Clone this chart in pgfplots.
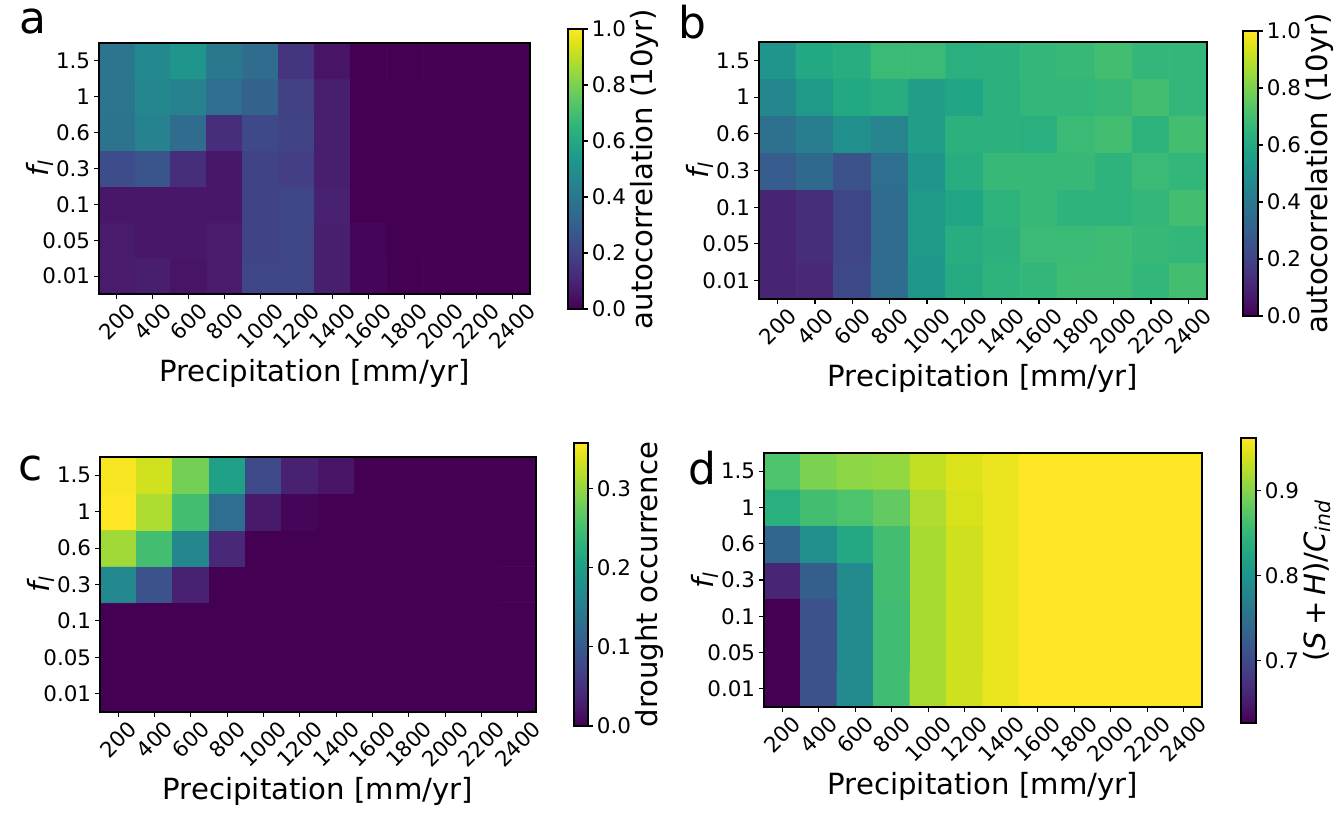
\documentclass[border=0pt]{standalone}
\usepackage{fontspec}
\setmainfont{DejaVu Sans}
\usepackage{graphicx}
\usepackage{pgfplots}
\pgfplotsset{compat=1.18}
\usepgfplotslibrary{colormaps}
\newcommand\tickfont{\fontsize{12.2}{14}\selectfont}
\newcommand\labfont{\fontsize{16.6}{19}\selectfont}
\newcommand\letfont{\fontsize{25}{29}\selectfont}
\pgfplotsset{
  hm/.style={
    scale only axis, enlargelimits=false, axis on top,
    xmin=-0.5, xmax=11.5, ymin=-0.5, ymax=6.5,
    colormap/viridis,
    xtick={0,...,11}, ytick={0,...,6},
    xticklabels={\rotatebox{45}{200},\rotatebox{45}{400},\rotatebox{45}{600},\rotatebox{45}{800},\rotatebox{45}{1000},\rotatebox{45}{1200},\rotatebox{45}{1400},\rotatebox{45}{1600},\rotatebox{45}{1800},\rotatebox{45}{2000},\rotatebox{45}{2200},\rotatebox{45}{2400}},
    yticklabels={0.01,0.05,0.1,0.3,0.6,1,1.5},
    tick pos=left, tick align=outside, major tick length=0.1cm,
    tick style={black, line width=0.6pt},
    axis line style={black, line width=0.6pt},
    xticklabel style={anchor=north, font=\tickfont, inner sep=1pt},
    yticklabel style={font=\tickfont, inner sep=2pt},
    xlabel={Precipitation [mm/yr]},
    ylabel={\itshape f\textsubscript{l}},
    ylabel shift=-12pt,
    label style={font=\labfont},
    colorbar,
  },
  cb/.style={
    scale only axis,
    at={(parent axis.north east)}, anchor=north west,
    width=0.3cm,
    ytick pos=right,
    tick align=outside, major tick length=0.1cm,
    tick style={black, line width=0.6pt},
    axis line style={black, line width=0.6pt},
    yticklabel style={font=\tickfont, inner sep=2pt, /pgf/number format/.cd, fixed, fixed zerofill, precision=1, assume math mode=true},
    ylabel style={font=\labfont},
    ylabel shift=-3pt,
  },
}
\begin{document}
\begin{tikzpicture}
\useasboundingbox (0,0) rectangle (26.72,-16.3);

% ---------- a ----------
\begin{axis}[hm, at={(1.98cm,-0.86cm)}, anchor=north west, width=8.62cm, height=5.02cm,
  point meta min=0, point meta max=1,
  colorbar style={cb, xshift=0.46cm, yshift=0.28cm, height=5.6cm, ytick={0,0.2,0.4,0.6,0.8,1}, ylabel={autocorrelation (10yr)}}]
\addplot[matrix plot*, mesh/cols=12, point meta=explicit] coordinates {
(0,0)[0.07] (1,0)[0.08] (2,0)[0.05] (3,0)[0.07] (4,0)[0.21] (5,0)[0.21] (6,0)[0.08] (7,0)[0.01] (8,0)[0] (9,0)[0] (10,0)[0] (11,0)[0]
(0,1)[0.07] (1,1)[0.06] (2,1)[0.06] (3,1)[0.07] (4,1)[0.20] (5,1)[0.21] (6,1)[0.08] (7,1)[0.01] (8,1)[0] (9,1)[0] (10,1)[0] (11,1)[0]
(0,2)[0.06] (1,2)[0.06] (2,2)[0.06] (3,2)[0.06] (4,2)[0.20] (5,2)[0.21] (6,2)[0.09] (7,2)[0] (8,2)[0] (9,2)[0] (10,2)[0] (11,2)[0]
(0,3)[0.23] (1,3)[0.26] (2,3)[0.13] (3,3)[0.06] (4,3)[0.20] (5,3)[0.18] (6,3)[0.08] (7,3)[0] (8,3)[0] (9,3)[0] (10,3)[0] (11,3)[0]
(0,4)[0.38] (1,4)[0.44] (2,4)[0.35] (3,4)[0.13] (4,4)[0.22] (5,4)[0.20] (6,4)[0.08] (7,4)[0] (8,4)[0] (9,4)[0] (10,4)[0] (11,4)[0]
(0,5)[0.39] (1,5)[0.46] (2,5)[0.44] (3,5)[0.36] (4,5)[0.31] (5,5)[0.19] (6,5)[0.08] (7,5)[0] (8,5)[0] (9,5)[0] (10,5)[0] (11,5)[0]
(0,6)[0.39] (1,6)[0.47] (2,6)[0.52] (3,6)[0.40] (4,6)[0.35] (5,6)[0.15] (6,6)[0.05] (7,6)[0] (8,6)[0] (9,6)[0] (10,6)[0] (11,6)[0]
};
\end{axis}

% ---------- b ----------
\begin{axis}[hm, at={(15.18cm,-0.84cm)}, anchor=north west, width=8.96cm, height=5.14cm,
  point meta min=0, point meta max=1,
  colorbar style={cb, xshift=0.42cm, yshift=0.22cm, height=5.7cm, ytick={0,0.2,0.4,0.6,0.8,1}, ylabel={autocorrelation (10yr)}}]
\addplot[matrix plot*, mesh/cols=12, point meta=explicit] coordinates {
(0,0)[0.10] (1,0)[0.11] (2,0)[0.22] (3,0)[0.35] (4,0)[0.53] (5,0)[0.61] (6,0)[0.65] (7,0)[0.66] (8,0)[0.69] (9,0)[0.69] (10,0)[0.66] (11,0)[0.70]
(0,1)[0.10] (1,1)[0.13] (2,1)[0.21] (3,1)[0.35] (4,1)[0.54] (5,1)[0.62] (6,1)[0.64] (7,1)[0.68] (8,1)[0.68] (9,1)[0.69] (10,1)[0.67] (11,1)[0.66]
(0,2)[0.10] (1,2)[0.13] (2,2)[0.21] (3,2)[0.35] (4,2)[0.54] (5,2)[0.59] (6,2)[0.65] (7,2)[0.67] (8,2)[0.65] (9,2)[0.65] (10,2)[0.66] (11,2)[0.70]
(0,3)[0.29] (1,3)[0.34] (2,3)[0.25] (3,3)[0.36] (4,3)[0.52] (5,3)[0.62] (6,3)[0.67] (7,3)[0.67] (8,3)[0.67] (9,3)[0.65] (10,3)[0.68] (11,3)[0.66]
(0,4)[0.37] (1,4)[0.42] (2,4)[0.50] (3,4)[0.45] (4,4)[0.56] (5,4)[0.64] (6,4)[0.64] (7,4)[0.63] (8,4)[0.68] (9,4)[0.70] (10,4)[0.65] (11,4)[0.70]
(0,5)[0.46] (1,5)[0.54] (2,5)[0.60] (3,5)[0.62] (4,5)[0.56] (5,5)[0.59] (6,5)[0.64] (7,5)[0.66] (8,5)[0.66] (9,5)[0.67] (10,5)[0.70] (11,5)[0.66]
(0,6)[0.52] (1,6)[0.60] (2,6)[0.62] (3,6)[0.68] (4,6)[0.68] (5,6)[0.63] (6,6)[0.64] (7,6)[0.66] (8,6)[0.67] (9,6)[0.70] (10,6)[0.66] (11,6)[0.66]
};
\end{axis}

% ---------- c ----------
\begin{axis}[hm, at={(2.00cm,-9.14cm)}, anchor=north west, width=8.72cm, height=5.10cm,
  point meta min=0, point meta max=0.358,
  colorbar style={cb, xshift=0.46cm, yshift=0.28cm, width=0.28cm, height=5.66cm, ytick={0,0.1,0.2,0.3}, ylabel={drought occurrence}}]
\addplot[matrix plot*, mesh/cols=12, point meta=explicit] coordinates {
(0,0)[0] (1,0)[0] (2,0)[0] (3,0)[0] (4,0)[0] (5,0)[0] (6,0)[0] (7,0)[0] (8,0)[0] (9,0)[0] (10,0)[0] (11,0)[0]
(0,1)[0] (1,1)[0] (2,1)[0] (3,1)[0] (4,1)[0] (5,1)[0] (6,1)[0] (7,1)[0] (8,1)[0] (9,1)[0] (10,1)[0] (11,1)[0]
(0,2)[0] (1,2)[0] (2,2)[0] (3,2)[0] (4,2)[0] (5,2)[0] (6,2)[0] (7,2)[0] (8,2)[0] (9,2)[0] (10,2)[0] (11,2)[0]
(0,3)[0.168] (1,3)[0.090] (2,3)[0.032] (3,3)[0] (4,3)[0] (5,3)[0] (6,3)[0] (7,3)[0] (8,3)[0] (9,3)[0] (10,3)[0] (11,3)[0]
(0,4)[0.308] (1,4)[0.250] (2,4)[0.165] (3,4)[0.040] (4,4)[0] (5,4)[0] (6,4)[0] (7,4)[0] (8,4)[0] (9,4)[0] (10,4)[0] (11,4)[0]
(0,5)[0.358] (1,5)[0.315] (2,5)[0.250] (3,5)[0.129] (4,5)[0.025] (5,5)[0.004] (6,5)[0] (7,5)[0] (8,5)[0] (9,5)[0] (10,5)[0] (11,5)[0]
(0,6)[0.355] (1,6)[0.333] (2,6)[0.283] (3,6)[0.204] (4,6)[0.079] (5,6)[0.032] (6,6)[0.018] (7,6)[0] (8,6)[0] (9,6)[0] (10,6)[0] (11,6)[0]
};
\end{axis}

% ---------- d ----------
\begin{axis}[hm, at={(15.28cm,-9.06cm)}, anchor=north west, width=8.76cm, height=5.08cm,
  point meta min=0.626, point meta max=0.962,
  colorbar style={cb, xshift=0.48cm, yshift=0.30cm, height=5.7cm, ytick={0.7,0.8,0.9},
    ylabel={(\textit{S}\hspace{0.2em}+\hspace{0.2em}\textit{H})/\textit{C}\textsubscript{\textit{ind}}}}]
\addplot[matrix plot*, mesh/cols=12, point meta=explicit] coordinates {
(0,0)[0.626] (1,0)[0.710] (2,0)[0.787] (3,0)[0.858] (4,0)[0.918] (5,0)[0.938] (6,0)[0.952] (7,0)[0.962] (8,0)[0.962] (9,0)[0.962] (10,0)[0.962] (11,0)[0.962]
(0,1)[0.626] (1,1)[0.710] (2,1)[0.787] (3,1)[0.858] (4,1)[0.918] (5,1)[0.938] (6,1)[0.952] (7,1)[0.962] (8,1)[0.962] (9,1)[0.962] (10,1)[0.962] (11,1)[0.962]
(0,2)[0.626] (1,2)[0.710] (2,2)[0.787] (3,2)[0.858] (4,2)[0.918] (5,2)[0.938] (6,2)[0.952] (7,2)[0.962] (8,2)[0.962] (9,2)[0.962] (10,2)[0.962] (11,2)[0.962]
(0,3)[0.660] (1,3)[0.727] (2,3)[0.787] (3,3)[0.861] (4,3)[0.918] (5,3)[0.938] (6,3)[0.952] (7,3)[0.962] (8,3)[0.962] (9,3)[0.962] (10,3)[0.962] (11,3)[0.962]
(0,4)[0.737] (1,4)[0.794] (2,4)[0.828] (3,4)[0.861] (4,4)[0.918] (5,4)[0.938] (6,4)[0.952] (7,4)[0.962] (8,4)[0.962] (9,4)[0.962] (10,4)[0.962] (11,4)[0.962]
(0,5)[0.838] (1,5)[0.861] (2,5)[0.868] (3,5)[0.881] (4,5)[0.922] (5,5)[0.942] (6,5)[0.952] (7,5)[0.962] (8,5)[0.962] (9,5)[0.962] (10,5)[0.962] (11,5)[0.962]
(0,6)[0.868] (1,6)[0.895] (2,6)[0.905] (3,6)[0.908] (4,6)[0.932] (5,6)[0.945] (6,6)[0.952] (7,6)[0.962] (8,6)[0.962] (9,6)[0.962] (10,6)[0.962] (11,6)[0.962]
};
\end{axis}

\node[font=\letfont] at (0.66,-0.44) {a};
\node[font=\letfont] at (13.84,-0.44) {b};
\node[font=\letfont] at (0.62,-9.36) {c};
\node[font=\letfont] at (14.04,-9.36) {d};
\end{tikzpicture}
\end{document}
